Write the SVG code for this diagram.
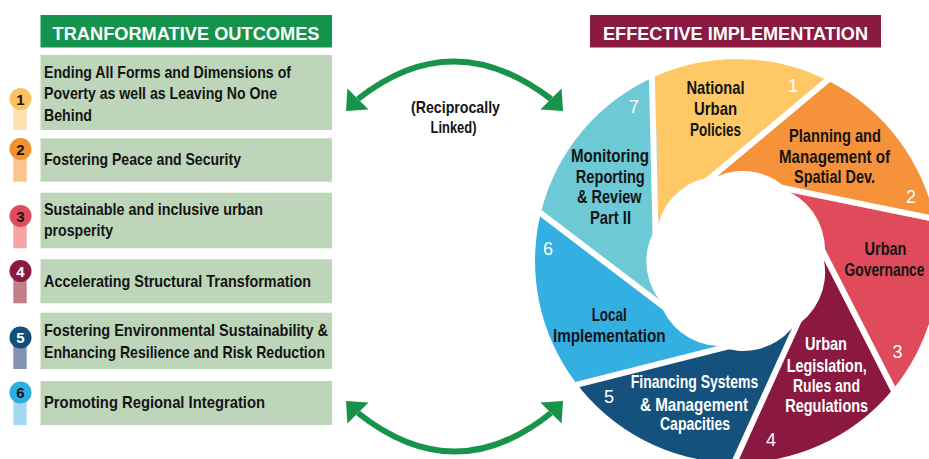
<svg xmlns="http://www.w3.org/2000/svg" xmlns:xlink="http://www.w3.org/1999/xlink" width="929" height="459" viewBox="0 0 929 459">
  <style>
    .cond { font-family: "Liberation Sans Narrow", "Liberation Sans", Arial, sans-serif; font-weight: bold; }
    .hd { font-family: "Liberation Sans", Arial, sans-serif; font-weight: bold; font-size: 18.5px; fill: #fff; text-anchor: middle; }
    .row { fill: #BDD6BA; }
    .lt { font-size: 17px; fill: #141414; }
    .wt { font-size: 18.5px; fill: #141414; text-anchor: middle; }
    .wt.w { fill: #fff; }
    .num { font-family: "Liberation Sans", Arial, sans-serif; font-size: 18px; fill: #fff; text-anchor: middle; }
    .bn { font-size: 15px; text-anchor: middle; fill: #141414; }
    .bn.w { fill: #fff; }
    .gap { stroke: #fff; stroke-width: 6; }
    .shaft { fill: none; stroke: #17934A; stroke-width: 6; }
    .head { fill: #17934A; }
  </style>
  <defs>
    <!-- one blade of the seven-part aperture wheel, centre (737,261) -->
    <path id="blade" d="M658.3,224 L654.95,76.47 A202,202 0 0 1 830.19,81.82 L716.9,176.4 A64,64 0 0 0 658.3,224 Z"/>
    <!-- white cut between neighbouring blades -->
    <line id="cut" class="gap" x1="655.9" y1="249.1" x2="651.3" y2="49.1"/>
  </defs>

  <rect width="929" height="459" fill="#fff"/>

  <!-- ===== Left column: transformative outcomes ===== -->
  <g id="outcomes-header">
    <rect x="40.5" y="15" width="291.5" height="32.5" fill="#13934B"/>
    <text class="hd" x="186" y="39.5" textLength="267" lengthAdjust="spacingAndGlyphs">TRANFORMATIVE OUTCOMES</text>
  </g>

  <g id="outcome-1">
    <rect class="row" x="40.5" y="55" width="291.5" height="75"/>
    <rect x="13.3" y="99" width="13.4" height="31" fill="#FDE3B1"/>
    <circle cx="20.5" cy="99" r="11" fill="#FDC35E"/>
    <text class="cond bn" x="20.5" y="104.5">1</text>
    <text class="cond lt" x="44" y="77.5" textLength="247" lengthAdjust="spacingAndGlyphs">Ending All Forms and Dimensions of</text>
    <text class="cond lt" x="44" y="99" textLength="233" lengthAdjust="spacingAndGlyphs">Poverty as well as Leaving No One</text>
    <text class="cond lt" x="44" y="120.5" textLength="48" lengthAdjust="spacingAndGlyphs">Behind</text>
  </g>

  <g id="outcome-2">
    <rect class="row" x="40.5" y="138.3" width="291.5" height="43.4"/>
    <rect x="13.3" y="149" width="13.4" height="32.7" fill="#FCC591"/>
    <circle cx="20.5" cy="149" r="11" fill="#F39131"/>
    <text class="cond bn" x="20.5" y="154.5">2</text>
    <text class="cond lt" x="44" y="165" textLength="197" lengthAdjust="spacingAndGlyphs">Fostering Peace and Security</text>
  </g>

  <g id="outcome-3">
    <rect class="row" x="40.5" y="192.7" width="291.5" height="55.6"/>
    <rect x="13.3" y="216" width="13.4" height="32.3" fill="#F3A6A5"/>
    <circle cx="20.5" cy="216" r="11" fill="#E24B5C"/>
    <text class="cond bn" x="20.5" y="221.5">3</text>
    <text class="cond lt" x="44" y="215" textLength="219" lengthAdjust="spacingAndGlyphs">Sustainable and inclusive urban</text>
    <text class="cond lt" x="44" y="236" textLength="69" lengthAdjust="spacingAndGlyphs">prosperity</text>
  </g>

  <g id="outcome-4">
    <rect class="row" x="40.5" y="259.3" width="291.5" height="44"/>
    <rect x="13.3" y="271" width="13.4" height="32.3" fill="#C1808A"/>
    <circle cx="20.5" cy="271" r="11" fill="#8A1942"/>
    <text class="cond bn w" x="20.5" y="276.5">4</text>
    <text class="cond lt" x="44" y="286.5" textLength="267" lengthAdjust="spacingAndGlyphs">Accelerating Structural Transformation</text>
  </g>

  <g id="outcome-5">
    <rect class="row" x="40.5" y="312.7" width="291.5" height="56.3"/>
    <rect x="13.3" y="337.5" width="13.4" height="31.5" fill="#8493B3"/>
    <circle cx="20.5" cy="337.5" r="11" fill="#134F7B"/>
    <text class="cond bn w" x="20.5" y="343">5</text>
    <text class="cond lt" x="44" y="336" textLength="284" lengthAdjust="spacingAndGlyphs">Fostering Environmental Sustainability &amp;</text>
    <text class="cond lt" x="44" y="357.5" textLength="281" lengthAdjust="spacingAndGlyphs">Enhancing Resilience and Risk Reduction</text>
  </g>

  <g id="outcome-6">
    <rect class="row" x="40.5" y="381" width="291.5" height="44"/>
    <rect x="13.3" y="392.5" width="13.4" height="32.5" fill="#A7D8F1"/>
    <circle cx="20.5" cy="392.5" r="11" fill="#2DAEE2"/>
    <text class="cond bn" x="20.5" y="398">6</text>
    <text class="cond lt" x="44" y="407.5" textLength="221" lengthAdjust="spacingAndGlyphs">Promoting Regional Integration</text>
  </g>

  <!-- ===== Connectors: reciprocal links ===== -->
  <g id="connectors">
    <path class="shaft" d="M358,99 Q453,24 551,99"/>
    <polygon class="head" points="346,111 347.4,88.4 368.6,109.6"/>
    <polygon class="head" points="563,111 540.4,109.6 561.6,88.4"/>
    <path class="shaft" d="M358,413 Q455,490 551,413"/>
    <polygon class="head" points="346,401 368.6,402.4 347.4,423.6"/>
    <polygon class="head" points="563,401 561.6,423.6 540.4,402.4"/>
  </g>
  <g id="link-label">
    <text class="cond lt" x="455.5" y="113" text-anchor="middle" textLength="89" lengthAdjust="spacingAndGlyphs">(Reciprocally</text>
    <text class="cond lt" x="453.5" y="132.5" text-anchor="middle" textLength="46" lengthAdjust="spacingAndGlyphs">Linked)</text>
  </g>

  <!-- ===== Right column: effective implementation ===== -->
  <g id="implementation-header">
    <rect x="590" y="15" width="291" height="32.5" fill="#8A1A40"/>
    <text class="hd" x="735.5" y="39.5" textLength="265" lengthAdjust="spacingAndGlyphs">EFFECTIVE IMPLEMENTATION</text>
  </g>

  <g id="wheel">
    <use xlink:href="#blade" href="#blade" fill="#FDC865"/>
    <use xlink:href="#blade" href="#blade" fill="#F5923A" transform="rotate(51.4286 737 261)"/>
    <use xlink:href="#blade" href="#blade" fill="#E04B5B" transform="rotate(102.8571 737 261)"/>
    <use xlink:href="#blade" href="#blade" fill="#8A1840" transform="rotate(154.2857 737 261)"/>
    <use xlink:href="#blade" href="#blade" fill="#14527D" transform="rotate(205.7143 737 261)"/>
    <use xlink:href="#blade" href="#blade" fill="#33AFE2" transform="rotate(257.1429 737 261)"/>
    <use xlink:href="#blade" href="#blade" fill="#6DC9D5" transform="rotate(308.5714 737 261)"/>
  </g>
  <g id="wheel-cuts">
    <use xlink:href="#cut" href="#cut"/>
    <use xlink:href="#cut" href="#cut" transform="rotate(51.4286 737 261)"/>
    <use xlink:href="#cut" href="#cut" transform="rotate(102.8571 737 261)"/>
    <use xlink:href="#cut" href="#cut" transform="rotate(154.2857 737 261)"/>
    <use xlink:href="#cut" href="#cut" transform="rotate(205.7143 737 261)"/>
    <use xlink:href="#cut" href="#cut" transform="rotate(257.1429 737 261)"/>
    <use xlink:href="#cut" href="#cut" transform="rotate(308.5714 737 261)"/>
  </g>

  <g id="impl-1">
    <text class="cond wt" x="715.5" y="94" textLength="58" lengthAdjust="spacingAndGlyphs">National</text>
    <text class="cond wt" x="715.5" y="115" textLength="43" lengthAdjust="spacingAndGlyphs">Urban</text>
    <text class="cond wt" x="715.5" y="136" textLength="51" lengthAdjust="spacingAndGlyphs">Policies</text>
    <text class="num" x="793" y="92">1</text>
  </g>
  <g id="impl-2">
    <text class="cond wt" x="835" y="141.7" textLength="92" lengthAdjust="spacingAndGlyphs">Planning and</text>
    <text class="cond wt" x="834.5" y="162.7" textLength="111" lengthAdjust="spacingAndGlyphs">Management of</text>
    <text class="cond wt" x="834.5" y="183.3" textLength="81" lengthAdjust="spacingAndGlyphs">Spatial Dev.</text>
    <text class="num" x="911" y="203">2</text>
  </g>
  <g id="impl-3">
    <text class="cond wt" x="885.5" y="255" textLength="42" lengthAdjust="spacingAndGlyphs">Urban</text>
    <text class="cond wt" x="884.5" y="276" textLength="80" lengthAdjust="spacingAndGlyphs">Governance</text>
    <text class="num" x="897.5" y="358">3</text>
  </g>
  <g id="impl-4">
    <text class="cond wt w" x="826" y="350" textLength="42" lengthAdjust="spacingAndGlyphs">Urban</text>
    <text class="cond wt w" x="826.7" y="371.7" textLength="80" lengthAdjust="spacingAndGlyphs">Legislation,</text>
    <text class="cond wt w" x="826.5" y="391.7" textLength="67" lengthAdjust="spacingAndGlyphs">Rules and</text>
    <text class="cond wt w" x="826.7" y="411.7" textLength="83" lengthAdjust="spacingAndGlyphs">Regulations</text>
    <text class="num" x="771" y="446">4</text>
  </g>
  <g id="impl-5">
    <text class="cond wt w" x="694.5" y="388.3" textLength="127.6" lengthAdjust="spacingAndGlyphs">Financing Systems</text>
    <text class="cond wt w" x="694" y="410.7" textLength="108" lengthAdjust="spacingAndGlyphs">&amp; Management</text>
    <text class="cond wt w" x="695" y="430" textLength="70" lengthAdjust="spacingAndGlyphs">Capacities</text>
    <text class="num" x="609" y="403">5</text>
  </g>
  <g id="impl-6">
    <text class="cond wt" x="609.2" y="320.7" textLength="35" lengthAdjust="spacingAndGlyphs">Local</text>
    <text class="cond wt" x="609.3" y="341.7" textLength="112.7" lengthAdjust="spacingAndGlyphs">Implementation</text>
    <text class="num" x="548" y="255">6</text>
  </g>
  <g id="impl-7">
    <text class="cond wt" x="610" y="161.7" textLength="78" lengthAdjust="spacingAndGlyphs">Monitoring</text>
    <text class="cond wt" x="610.3" y="183.3" textLength="69" lengthAdjust="spacingAndGlyphs">Reporting</text>
    <text class="cond wt" x="609.3" y="203.3" textLength="64.7" lengthAdjust="spacingAndGlyphs">&amp; Review</text>
    <text class="cond wt" x="610.5" y="224" textLength="41" lengthAdjust="spacingAndGlyphs">Part II</text>
    <text class="num" x="634" y="113">7</text>
  </g>
</svg>
